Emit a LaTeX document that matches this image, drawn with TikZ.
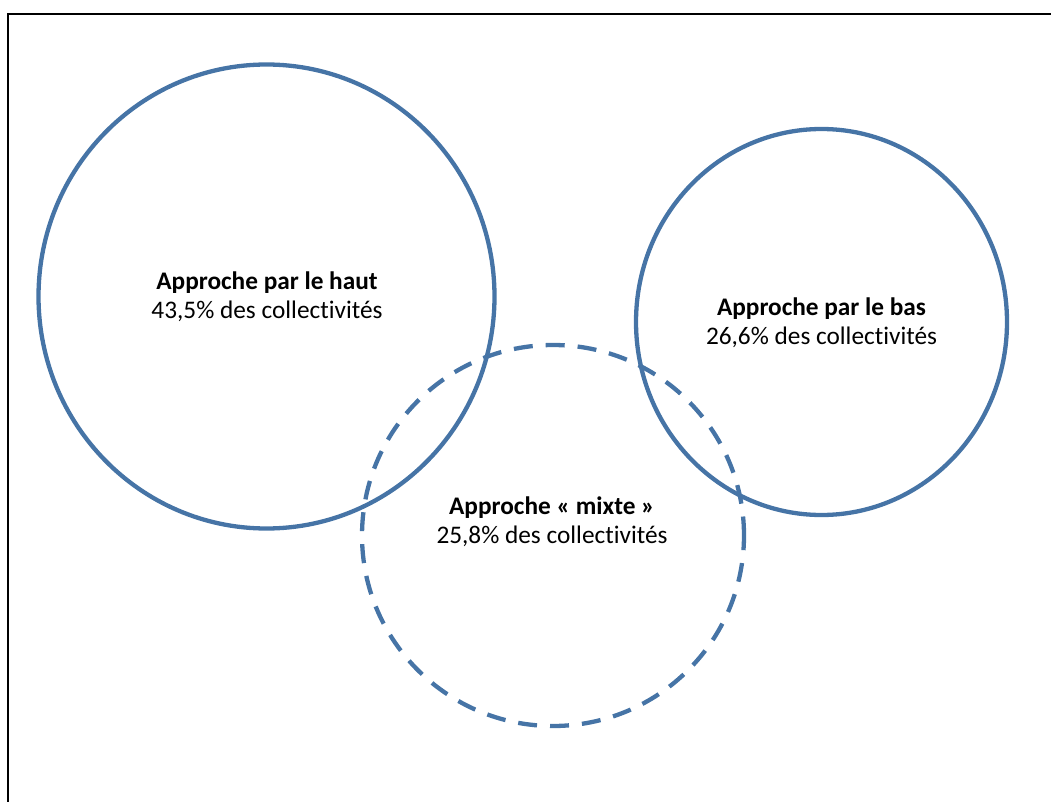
\documentclass[tikz,border=0pt]{standalone}
\usepackage{fontspec}
\setmainfont[RawFeature=-liga]{Carlito}
\usetikzlibrary{shapes.geometric}
\definecolor{ringblue}{HTML}{4674A6}
\tikzset{
  ring/.style={draw=ringblue, line width=4.3pt, ellipse, inner sep=0pt},
  dashring/.style={ring, dash pattern=on 19pt off 13pt},
  label/.style={align=center, font=\fontsize{25.3}{29}\selectfont, inner sep=0pt, anchor=base},
  frameline/.style={draw=black, line width=2pt}
}
\begin{document}
\begin{tikzpicture}[x=1pt,y=-1pt]
\useasboundingbox (0,0) rectangle (1051,802);
\coordinate (fb) at (8,802);
\coordinate (ftl) at (8,14);
\coordinate (fr) at (1051,14);
\draw[frameline] (fb) -- (ftl) -- (fr);
\node[ring, minimum width=456pt, minimum height=464pt] (haut) at (266.5,296.5) {};
\node[ring, minimum width=371pt, minimum height=386pt] (bas) at (821.5,322) {};
\node[dashring, minimum width=382pt, minimum height=381pt] (mixte) at (553,535.5) {};
\node[label] (thaut) at (267,318) {\textbf{Approche par le haut}\\43,5\% des collectivités};
\node[label] (tbas) at (821.5,344) {\textbf{Approche par le bas}\\26,6\% des collectivités};
\node[label] (tmixte) at (552,543) {\textbf{Approche « mixte »}\\25,8\% des collectivités};
\end{tikzpicture}
\end{document}
